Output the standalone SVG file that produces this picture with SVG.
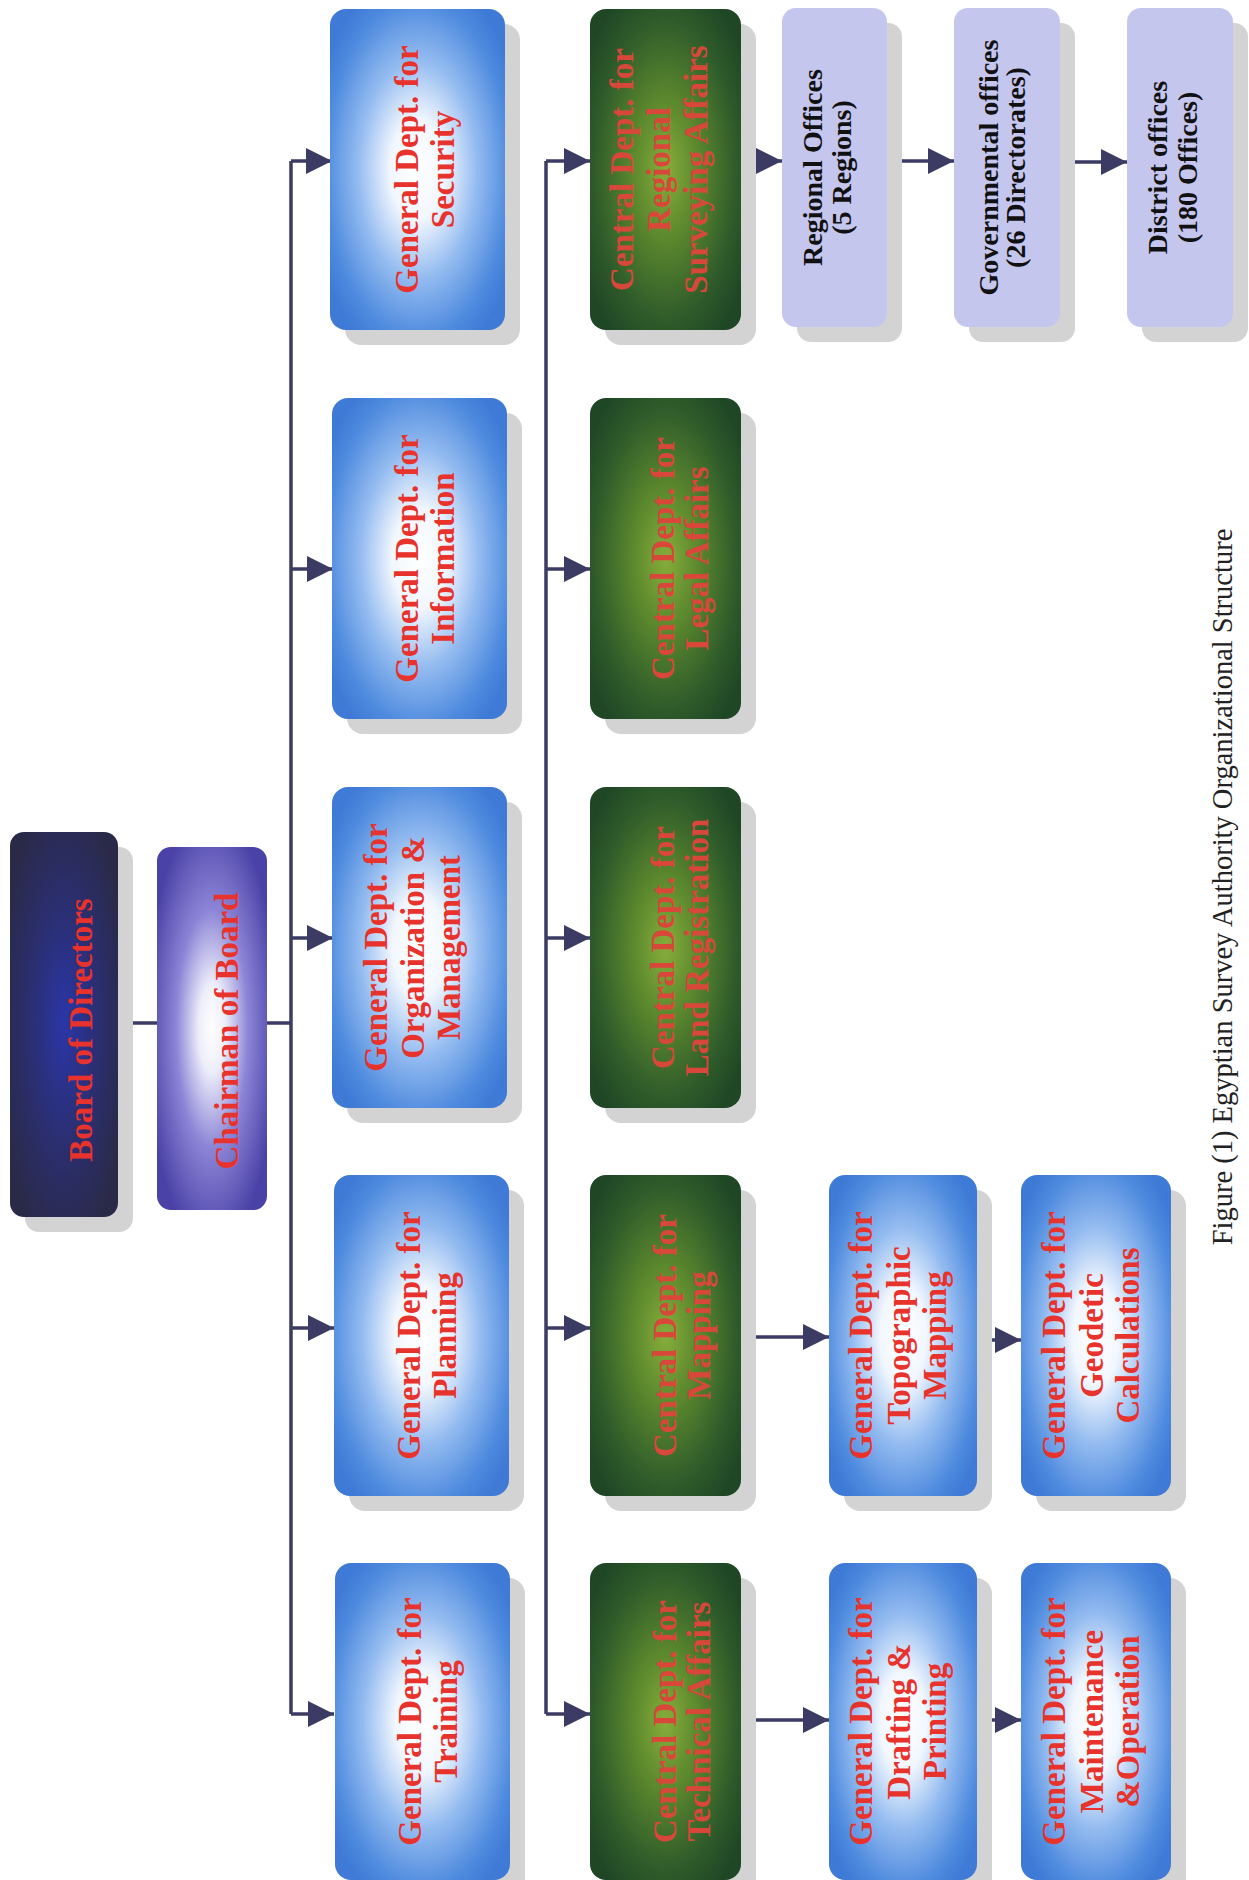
<svg xmlns="http://www.w3.org/2000/svg" width="1249" height="1880" viewBox="0 0 1249 1880">
<defs>
<radialGradient id="gBlue" cx="0.5" cy="0.5" r="0.62">
<stop offset="0" stop-color="#ffffff"/>
<stop offset="0.25" stop-color="#f2f7fe"/>
<stop offset="0.55" stop-color="#93bbf0"/>
<stop offset="0.85" stop-color="#4e8ade"/>
<stop offset="1" stop-color="#3f7bd6"/>
</radialGradient>
<radialGradient id="gGreen" cx="0.5" cy="0.5" r="0.62">
<stop offset="0" stop-color="#86ad3a"/>
<stop offset="0.35" stop-color="#5c882e"/>
<stop offset="0.75" stop-color="#2f5c2a"/>
<stop offset="1" stop-color="#1f4726"/>
</radialGradient>
<radialGradient id="gBoard" cx="0.5" cy="0.5" r="0.6">
<stop offset="0" stop-color="#2a36a8"/>
<stop offset="0.5" stop-color="#2b2f72"/>
<stop offset="1" stop-color="#2a2a48"/>
</radialGradient>
<radialGradient id="gChair" cx="0.5" cy="0.5" r="0.6">
<stop offset="0" stop-color="#ffffff"/>
<stop offset="0.2" stop-color="#eeeefa"/>
<stop offset="0.55" stop-color="#8b84d6"/>
<stop offset="1" stop-color="#4a42a6"/>
</radialGradient>
<marker id="arr" markerUnits="userSpaceOnUse" markerWidth="28" markerHeight="28" refX="26" refY="13" orient="auto">
<path d="M0,0 L26,13 L0,26 Z" fill="#3b3b63"/>
</marker>
<style>
.sh{fill:#d3d3d3}
.blue{fill:url(#gBlue)}
.green{fill:url(#gGreen)}
.off{fill:#c4c6ee}
.ln{fill:none;stroke:#3b3b63;stroke-width:3.5}
.ar{fill:none;stroke:#3b3b63;stroke-width:3.5;marker-end:url(#arr)}
.tb{font-family:"Liberation Serif","Times New Roman",serif;font-weight:bold;font-size:33px;fill:#e8322c;text-anchor:middle}
.tg{font-family:"Liberation Serif","Times New Roman",serif;font-weight:bold;font-size:33px;fill:#d9473a;text-anchor:middle}
.to{font-family:"Liberation Serif","Times New Roman",serif;font-weight:bold;font-size:28px;fill:#111;text-anchor:middle}
.cap{font-family:"Liberation Serif","Times New Roman",serif;font-size:28.5px;fill:#222;text-anchor:middle}
</style>
</defs>
<rect x="0" y="0" width="1249" height="1880" fill="#ffffff"/>

<g id="connectors">
<path class="ln" d="M118,1023 H157"/>
<path class="ln" d="M267,1023 H291"/>
<path class="ln" d="M291,161 V1714"/>
<path class="ar" d="M291,161 H332"/>
<path class="ar" d="M291,569 H333"/>
<path class="ar" d="M291,938 H333"/>
<path class="ar" d="M291,1328 H334"/>
<path class="ar" d="M291,1714 H334"/>
<path class="ln" d="M546,161 V1714"/>
<path class="ar" d="M546,161 H590"/>
<path class="ar" d="M546,569 H590"/>
<path class="ar" d="M546,938 H590"/>
<path class="ar" d="M546,1328 H590"/>
<path class="ar" d="M546,1714 H590"/>
<path class="ar" d="M741,161 H782"/>
<path class="ar" d="M887,161 H954"/>
<path class="ar" d="M1060,162 H1127"/>
<path class="ar" d="M741,1337 H829"/>
<path class="ar" d="M977,1340 H1021"/>
<path class="ar" d="M741,1720 H829"/>
<path class="ar" d="M977,1720 H1021"/>
</g>

<g id="board">
<rect class="sh" x="25" y="847" width="108" height="385" rx="14"/>
<rect x="10" y="832" width="108" height="385" rx="14" fill="url(#gBoard)"/>
<text class="tb" font-size="32" transform="translate(64,1030) rotate(-90)"><tspan x="0" y="28">Board of Directors</tspan></text>
</g>

<g id="chairman">
<rect x="157" y="847" width="110" height="363" rx="14" fill="url(#gChair)"/>
<text class="tb" transform="translate(212,1031) rotate(-90)"><tspan x="0" y="26">Chairman of Board</tspan></text>
</g>

<g id="security">
<rect class="sh" x="345" y="24" width="175" height="321" rx="16"/>
<rect class="blue" x="330" y="9" width="175" height="321" rx="16"/>
<text class="tb" transform="translate(418.5,169.5) rotate(-90)"><tspan x="0" y="-1">General Dept. for</tspan><tspan x="0" y="35">Security</tspan></text>
</g>

<g id="information">
<rect class="sh" x="347" y="413" width="175" height="321" rx="16"/>
<rect class="blue" x="332" y="398" width="175" height="321" rx="16"/>
<text class="tb" transform="translate(419.5,558.5) rotate(-90)"><tspan x="0" y="-2">General Dept. for</tspan><tspan x="0" y="34">Information</tspan></text>
</g>

<g id="organization">
<rect class="sh" x="347" y="802" width="175" height="321" rx="16"/>
<rect class="blue" x="332" y="787" width="175" height="321" rx="16"/>
<text class="tb" transform="translate(419.5,947.5) rotate(-90)"><tspan x="0" y="-33">General Dept. for</tspan><tspan x="0" y="4">Organization &amp;</tspan><tspan x="0" y="40">Management</tspan></text>
</g>

<g id="planning">
<rect class="sh" x="349" y="1190" width="175" height="321" rx="16"/>
<rect class="blue" x="334" y="1175" width="175" height="321" rx="16"/>
<text class="tb" transform="translate(421.5,1335.5) rotate(-90)"><tspan x="0" y="-2">General Dept. for</tspan><tspan x="0" y="34">Planning</tspan></text>
</g>

<g id="training">
<rect class="sh" x="350" y="1578" width="175" height="317" rx="16"/>
<rect class="blue" x="335" y="1563" width="175" height="317" rx="16"/>
<text class="tb" transform="translate(422.5,1721.5) rotate(-90)"><tspan x="0" y="-2">General Dept. for</tspan><tspan x="0" y="34">Training</tspan></text>
</g>

<g id="regional-surveying">
<rect class="sh" x="605" y="24" width="151" height="321" rx="16"/>
<rect class="green" x="590" y="9" width="151" height="321" rx="16"/>
<text class="tg" transform="translate(665.5,169.5) rotate(-90)"><tspan x="0" y="-33">Central Dept. for</tspan><tspan x="0" y="4">Regional</tspan><tspan x="0" y="41">Surveying Affairs</tspan></text>
</g>

<g id="legal">
<rect class="sh" x="605" y="413" width="151" height="321" rx="16"/>
<rect class="green" x="590" y="398" width="151" height="321" rx="16"/>
<text class="tg" transform="translate(665.5,558.5) rotate(-90)"><tspan x="0" y="8">Central Dept. for</tspan><tspan x="0" y="42">Legal Affairs</tspan></text>
</g>

<g id="land-registration">
<rect class="sh" x="605" y="802" width="151" height="321" rx="16"/>
<rect class="green" x="590" y="787" width="151" height="321" rx="16"/>
<text class="tg" transform="translate(665.5,947.5) rotate(-90)"><tspan x="0" y="8">Central Dept. for</tspan><tspan x="0" y="42">Land Registration</tspan></text>
</g>

<g id="mapping">
<rect class="sh" x="605" y="1190" width="151" height="321" rx="16"/>
<rect class="green" x="590" y="1175" width="151" height="321" rx="16"/>
<text class="tg" transform="translate(665.5,1335.5) rotate(-90)"><tspan x="0" y="10">Central Dept. for</tspan><tspan x="0" y="44">Mapping</tspan></text>
</g>

<g id="technical">
<rect class="sh" x="605" y="1578" width="151" height="317" rx="16"/>
<rect class="green" x="590" y="1563" width="151" height="317" rx="16"/>
<text class="tg" transform="translate(665.5,1721.5) rotate(-90)"><tspan x="0" y="10">Central Dept. for</tspan><tspan x="0" y="44">Technical Affairs</tspan></text>
</g>

<g id="regional-offices">
<rect class="sh" x="797" y="23" width="105" height="319" rx="14"/>
<rect class="off" x="782" y="8" width="105" height="319" rx="14"/>
<text class="to" transform="translate(834.5,167.5) rotate(-90)"><tspan x="0" y="-13">Regional Offices</tspan><tspan x="0" y="16">(5 Regions)</tspan></text>
</g>

<g id="governmental-offices">
<rect class="sh" x="969" y="23" width="106" height="319" rx="14"/>
<rect class="off" x="954" y="8" width="106" height="319" rx="14"/>
<text class="to" transform="translate(1007,167.5) rotate(-90)"><tspan x="0" y="-9">Governmental offices</tspan><tspan x="0" y="18">(26 Directorates)</tspan></text>
</g>

<g id="district-offices">
<rect class="sh" x="1142" y="23" width="106" height="319" rx="14"/>
<rect class="off" x="1127" y="8" width="106" height="319" rx="14"/>
<text class="to" transform="translate(1180,167.5) rotate(-90)"><tspan x="0" y="-13">District offices</tspan><tspan x="0" y="17">(180 Offices)</tspan></text>
</g>

<g id="topographic">
<rect class="sh" x="844" y="1190" width="148" height="321" rx="16"/>
<rect class="blue" x="829" y="1175" width="148" height="321" rx="16"/>
<text class="tb" transform="translate(903,1335.5) rotate(-90)"><tspan x="0" y="-31">General Dept. for</tspan><tspan x="0" y="7">Topographic</tspan><tspan x="0" y="43">Mapping</tspan></text>
</g>

<g id="geodetic">
<rect class="sh" x="1036" y="1190" width="150" height="321" rx="16"/>
<rect class="blue" x="1021" y="1175" width="150" height="321" rx="16"/>
<text class="tb" transform="translate(1096,1335.5) rotate(-90)"><tspan x="0" y="-31">General Dept. for</tspan><tspan x="0" y="7">Geodetic</tspan><tspan x="0" y="43">Calculations</tspan></text>
</g>

<g id="drafting">
<rect class="sh" x="844" y="1578" width="148" height="317" rx="16"/>
<rect class="blue" x="829" y="1563" width="148" height="317" rx="16"/>
<text class="tb" transform="translate(903,1721.5) rotate(-90)"><tspan x="0" y="-31">General Dept. for</tspan><tspan x="0" y="7">Drafting &amp;</tspan><tspan x="0" y="43">Printing</tspan></text>
</g>

<g id="maintenance">
<rect class="sh" x="1036" y="1578" width="150" height="317" rx="16"/>
<rect class="blue" x="1021" y="1563" width="150" height="317" rx="16"/>
<text class="tb" transform="translate(1096,1721.5) rotate(-90)"><tspan x="0" y="-31">General Dept. for</tspan><tspan x="0" y="7">Maintenance</tspan><tspan x="0" y="43">&amp;Operation</tspan></text>
</g>

<text class="cap" transform="translate(1232,887) rotate(-90)">Figure (1) Egyptian Survey Authority Organizational Structure</text>
</svg>
